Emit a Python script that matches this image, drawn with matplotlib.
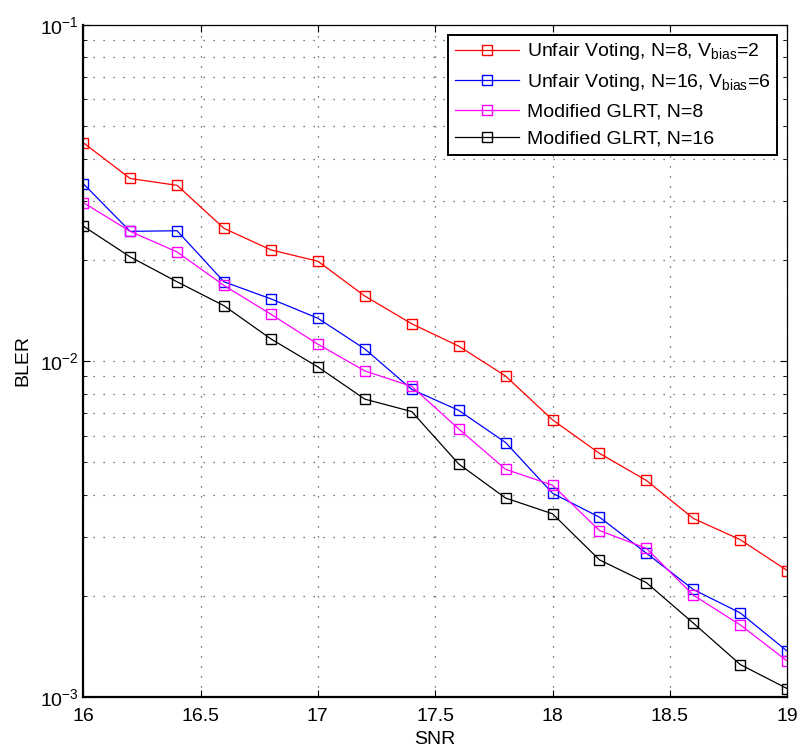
import numpy as np
import matplotlib
matplotlib.use("Agg")
import matplotlib.pyplot as plt
from matplotlib.ticker import LogLocator, FixedLocator, NullFormatter

plt.rcParams['font.family'] = ['Liberation Sans', 'DejaVu Sans']
plt.rcParams['mathtext.fontset'] = 'custom'
plt.rcParams['mathtext.rm'] = 'Liberation Sans'
plt.rcParams['mathtext.it'] = 'Liberation Sans:italic'
plt.rcParams['mathtext.bf'] = 'Liberation Sans:bold'

snr = [16.0, 16.2, 16.4, 16.6, 16.8, 17.0, 17.2, 17.4,
       17.6, 17.8, 18.0, 18.2, 18.4, 18.6, 18.8, 19.0]

bler_uv8 = [0.0446, 0.0349, 0.0333, 0.0248, 0.0214, 0.0198, 0.0156, 0.0129,
            0.01107, 0.00902, 0.00668, 0.00531, 0.00441, 0.0034, 0.00294, 0.00238]
bler_uv16 = [0.0337, 0.0243, 0.0244, 0.0172, 0.0153, 0.0134, 0.01086, 0.00823,
             0.00713, 0.00572, 0.00404, 0.00343, 0.00268, 0.00209, 0.00178, 0.00137]
bler_glrt8 = [0.0296, 0.0243, 0.0211, 0.01677, 0.01377, 0.01122, 0.00934, 0.0084,
              0.00628, 0.00476, 0.00427, 0.00313, 0.00277, 0.00201, 0.00164, 0.00128]
bler_glrt16 = [0.0252, 0.0204, 0.0172, 0.0146, 0.01163, 0.0096, 0.0077, 0.00707,
               0.00494, 0.00391, 0.00351, 0.00256, 0.00219, 0.00166, 0.00125, 0.00106]

labels = [r'Unfair Voting, N=8, V$_{\mathrm{bias}}$=2',
          r'Unfair Voting, N=16, V$_{\mathrm{bias}}$=6',
          'Modified GLRT, N=8',
          'Modified GLRT, N=16']
colors = ['#ff0000', '#0000ff', '#ff00ff', '#000000']

fig = plt.figure(figsize=(8, 7.52), dpi=100)
ax = fig.add_axes([0.104, 0.073, 0.880, 0.894])

for y, c, lab in zip([bler_uv8, bler_uv16, bler_glrt8, bler_glrt16], colors, labels):
    ax.semilogy(snr, y, '-s', color=c, lw=0.9, markersize=7,
                markerfacecolor='none', markeredgewidth=1.0, label=lab)

ax.set_xlim(16, 19)
ax.set_ylim(1e-3, 1e-1)
ax.xaxis.set_major_locator(FixedLocator([16, 16.5, 17, 17.5, 18, 18.5, 19]))
ax.set_xticklabels(['16', '16.5', '17', '17.5', '18', '18.5', '19'])
ax.yaxis.set_major_locator(LogLocator(base=10, numticks=10))
ax.yaxis.set_minor_locator(LogLocator(base=10, subs=np.arange(2, 10), numticks=20))
ax.yaxis.set_minor_formatter(NullFormatter())

# dotted grid, minor lines on the log axis too
dots = (0, (1, 7))
ax.grid(True, which='major', color='0.3', linestyle=dots, lw=0.9)
ax.grid(True, which='minor', axis='y', color='0.3', linestyle=dots, lw=0.9)

ax.tick_params(which='both', direction='in', top=True, right=True, labelsize=14)
ax.tick_params(which='major', length=5)
ax.tick_params(which='minor', length=3)
ax.tick_params(axis='x', pad=8)

for side in ['left', 'bottom']:
    ax.spines[side].set_linewidth(1.6)
for side in ['top', 'right']:
    ax.spines[side].set_linewidth(0.9)

ax.set_xlabel('SNR', fontsize=14, labelpad=4)
ax.set_ylabel('BLER', fontsize=14, labelpad=6)

leg = ax.legend(loc='upper right', fontsize=14, handlelength=3.3,
                borderaxespad=0.5, labelspacing=0.5, fancybox=False,
                edgecolor='black', framealpha=1, borderpad=0.35,
                handletextpad=0.4)
leg.get_frame().set_linewidth(1.4)

fig.savefig('out.png', dpi=100)
